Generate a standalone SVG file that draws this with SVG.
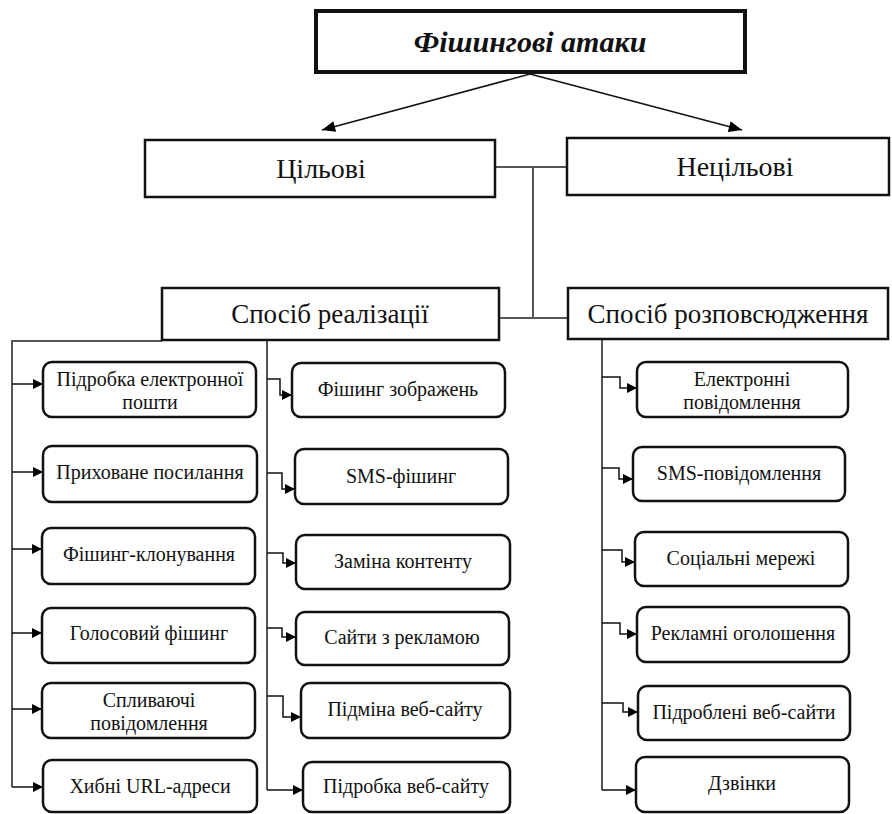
<svg xmlns="http://www.w3.org/2000/svg" width="892" height="814" viewBox="0 0 892 814">
<defs>
<marker id="ah" viewBox="0 0 10 10" refX="10" refY="5" markerWidth="10" markerHeight="10" markerUnits="userSpaceOnUse" orient="auto"><path d="M0,0 L10,5 L0,10 z" fill="#000"/></marker>
<marker id="ah2" viewBox="0 0 12 10" refX="12" refY="5" markerWidth="14" markerHeight="11" markerUnits="userSpaceOnUse" orient="auto"><path d="M0,0 L12,5 L0,10 z" fill="#000"/></marker>
</defs>
<style>
text{fill:#111;text-anchor:middle;font-family:"Liberation Serif","Times New Roman","DejaVu Serif",serif}
.big{fill:#fff;stroke:#111;stroke-width:2.5}
.top{fill:#fff;stroke:#111;stroke-width:4}
.sm{fill:#fff;stroke:#111;stroke-width:2.5}
.t1{font-size:30px;font-weight:bold;font-style:italic}
.t2{font-size:28px}
.t3{font-size:27px}
.t4{font-size:20px}
.trunk{fill:none;stroke:#555;stroke-width:2}
.el{fill:none;stroke:#111;stroke-width:1.5}
</style>
<g id="connectors">
<line x1="530" y1="74" x2="322" y2="130" stroke="#111" stroke-width="1.5" marker-end="url(#ah2)"/>
<line x1="530" y1="74" x2="742" y2="130" stroke="#111" stroke-width="1.5" marker-end="url(#ah2)"/>
<polyline class="trunk" points="495,167 567,167"/>
<polyline class="trunk" points="533,167 533,318"/>
<polyline class="trunk" points="499,318 568,318"/>
<polyline class="trunk" points="162,341 12,341 12,787"/>
<polyline class="trunk" points="267,341 267,790"/>
<polyline class="trunk" points="607,339 602,339 602,790"/>
<line class="el" x1="12" y1="384" x2="43" y2="384" marker-end="url(#ah)"/>
<line class="el" x1="12" y1="472" x2="43" y2="472" marker-end="url(#ah)"/>
<line class="el" x1="12" y1="549" x2="42" y2="549" marker-end="url(#ah)"/>
<line class="el" x1="12" y1="633" x2="42" y2="633" marker-end="url(#ah)"/>
<line class="el" x1="12" y1="709" x2="42" y2="709" marker-end="url(#ah)"/>
<line class="el" x1="12" y1="787" x2="43" y2="787" marker-end="url(#ah)"/>
<polyline class="el" points="267,379 280,379 280,395 292,395" marker-end="url(#ah)"/>
<polyline class="el" points="267,473 282,473 282,489 295,489" marker-end="url(#ah)"/>
<polyline class="el" points="267,553 283,553 283,563 296,563" marker-end="url(#ah)"/>
<polyline class="el" points="267,628 282,628 282,637 296,637" marker-end="url(#ah)"/>
<polyline class="el" points="267,696 283,696 283,717 301,717" marker-end="url(#ah)"/>
<line class="el" x1="267" y1="790" x2="303" y2="790" marker-end="url(#ah)"/>
<polyline class="el" points="602,377 620,377 620,388 637,388" marker-end="url(#ah)"/>
<polyline class="el" points="602,468 619,468 619,479 633,479" marker-end="url(#ah)"/>
<polyline class="el" points="602,550 622,550 622,562 635,562" marker-end="url(#ah)"/>
<polyline class="el" points="602,623 620,623 620,634 637,634" marker-end="url(#ah)"/>
<polyline class="el" points="602,703 623,703 623,712 638,712" marker-end="url(#ah)"/>
<line class="el" x1="602" y1="790" x2="636" y2="790" marker-end="url(#ah)"/>
</g>
<g id="n-root"><rect class="top" x="316" y="11" width="429" height="61"/><text class="t1" x="530" y="52">Фішингові атаки</text></g>
<g id="n-target"><rect class="big" x="145" y="140" width="350" height="57"/><text class="t2" x="321" y="178">Цільові</text></g>
<g id="n-untarget"><rect class="big" x="567" y="138" width="322" height="57"/><text class="t2" x="735" y="176">Нецільові</text></g>
<g id="n-method"><rect class="big" x="162" y="288" width="337" height="52"/><text class="t3" x="330" y="323">Спосіб реалізації</text></g>
<g id="n-spread"><rect class="big" x="568" y="288" width="320" height="51"/><text class="t3" x="728" y="323">Спосіб розповсюдження</text></g>
<g id="n-l1"><rect class="sm" x="43" y="362" width="213" height="55" rx="9"/><text class="t4" x="150" y="386">Підробка електронної</text><text class="t4" x="150" y="409">пошти</text></g>
<g id="n-l2"><rect class="sm" x="43" y="446" width="214" height="56" rx="9"/><text class="t4" x="150" y="479">Приховане посилання</text></g>
<g id="n-l3"><rect class="sm" x="42" y="528" width="213" height="56" rx="9"/><text class="t4" x="149" y="561">Фішинг-клонування</text></g>
<g id="n-l4"><rect class="sm" x="42" y="608" width="213" height="55" rx="9"/><text class="t4" x="149" y="640">Голосовий фішинг</text></g>
<g id="n-l5"><rect class="sm" x="42" y="683" width="213" height="55" rx="9"/><text class="t4" x="149" y="707">Спливаючі</text><text class="t4" x="149" y="730">повідомлення</text></g>
<g id="n-l6"><rect class="sm" x="43" y="760" width="214" height="52" rx="9"/><text class="t4" x="150" y="793">Хибні URL-адреси</text></g>
<g id="n-m1"><rect class="sm" x="292" y="363" width="213" height="54" rx="9"/><text class="t4" x="398" y="396">Фішинг зображень</text></g>
<g id="n-m2"><rect class="sm" x="295" y="449" width="213" height="55" rx="9"/><text class="t4" x="401" y="483">SMS-фішинг</text></g>
<g id="n-m3"><rect class="sm" x="296" y="535" width="214" height="54" rx="9"/><text class="t4" x="403" y="568">Заміна контенту</text></g>
<g id="n-m4"><rect class="sm" x="296" y="612" width="213" height="53" rx="9"/><text class="t4" x="402" y="644">Сайти з рекламою</text></g>
<g id="n-m5"><rect class="sm" x="301" y="683" width="209" height="55" rx="9"/><text class="t4" x="405" y="716">Підміна веб-сайту</text></g>
<g id="n-m6"><rect class="sm" x="303" y="762" width="207" height="50" rx="9"/><text class="t4" x="406" y="793">Підробка веб-сайту</text></g>
<g id="n-r1"><rect class="sm" x="637" y="362" width="211" height="55" rx="9"/><text class="t4" x="742" y="386">Електронні</text><text class="t4" x="742" y="409">повідомлення</text></g>
<g id="n-r2"><rect class="sm" x="633" y="447" width="212" height="54" rx="9"/><text class="t4" x="739" y="480">SMS-повідомлення</text></g>
<g id="n-r3"><rect class="sm" x="635" y="532" width="213" height="54" rx="9"/><text class="t4" x="741" y="565">Соціальні мережі</text></g>
<g id="n-r4"><rect class="sm" x="637" y="607" width="212" height="55" rx="9"/><text class="t4" x="743" y="640">Рекламні оголошення</text></g>
<g id="n-r5"><rect class="sm" x="638" y="686" width="212" height="54" rx="9"/><text class="t4" x="744" y="719">Підроблені веб-сайти</text></g>
<g id="n-r6"><rect class="sm" x="636" y="757" width="213" height="55" rx="9"/><text class="t4" x="742" y="790">Дзвінки</text></g>
</svg>
